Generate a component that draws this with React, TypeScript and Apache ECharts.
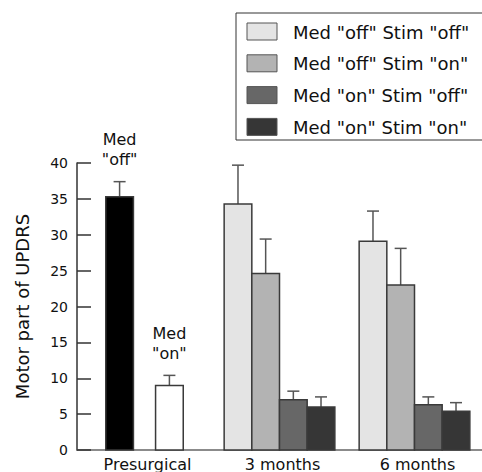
import React, { useEffect, useRef } from "react";
import * as echarts from "echarts";

const categories = ["Presurgical", "3 months", "6 months"];

// Presurgical (category 0)
const presurgicalNames = ['Med "off"', 'Med "on"'];
const presurgicalMeans = [35.3, 9.0];
const presurgicalErrTops = [37.4, 10.4];
const presurgicalNotes = ['Med\n"off"', 'Med\n"on"'];

// Follow-up (categories 1 and 2)
const followNames = [
  'Med "off" Stim "off"',
  'Med "off" Stim "on"',
  'Med "on" Stim "off"',
  'Med "on" Stim "on"',
];
const offOffMeans = [34.3, 29.1];
const offOffErrTops = [39.7, 33.3];
const offOnMeans = [24.6, 23.0];
const offOnErrTops = [29.4, 28.1];
const onOffMeans = [7.0, 6.3];
const onOffErrTops = [8.2, 7.4];
const onOnMeans = [6.0, 5.4];
const onOnErrTops = [7.4, 6.6];

const presurgicalColors = ["#000000", "#ffffff"];
const followColors = ["#e4e4e4", "#b3b3b3", "#676767", "#363636"];
const presurgicalSlots = [-0.9, 0.9];
const followSlots = [-1.5, -0.5, 0.5, 1.5];

const FONT = "DejaVu Sans";
const BAR_FRAC = 0.205;

function makeSeries(
  name: string,
  color: string,
  slot: number,
  rows: [number, number, number][],
  note?: string
) {
  return {
    type: "custom",
    name,
    encode: { x: 0, y: [1, 2] },
    data: rows,
    itemStyle: { color },
    renderItem: (params: any, api: any) => {
      const cat = api.value(0);
      const mean = api.value(1);
      const err = api.value(2);
      const base = api.coord([cat, 0]);
      const top = api.coord([cat, mean]);
      const ep = api.coord([cat, err]);
      const band = api.size([1, 0])[0];
      const bw = band * BAR_FRAC;
      const cx = base[0] + slot * bw;
      const children: any[] = [
        {
          type: "line",
          shape: { x1: cx, y1: top[1], x2: cx, y2: ep[1] },
          style: { stroke: "#555", lineWidth: 1.5 },
        },
        {
          type: "line",
          shape: { x1: cx - 6, y1: ep[1], x2: cx + 6, y2: ep[1] },
          style: { stroke: "#555", lineWidth: 1.5 },
        },
        {
          type: "rect",
          shape: { x: cx - bw / 2, y: top[1], width: bw, height: base[1] - top[1] },
          style: { fill: color, stroke: "#3a3a3a", lineWidth: 1.5 },
        },
      ];
      if (note) {
        children.push({
          type: "text",
          x: cx,
          y: ep[1] - 12,
          style: {
            text: note,
            fontFamily: FONT,
            fontSize: 16,
            lineHeight: 20,
            fill: "#111",
            align: "center",
            verticalAlign: "bottom",
          },
        });
      }
      return { type: "group", children };
    },
  };
}

export default function App() {
  const ref = useRef<HTMLDivElement>(null);
  useEffect(() => {
    if (!ref.current) return;
    const chart = echarts.init(ref.current, undefined, { renderer: "svg" });

    const series: any[] = [];
    presurgicalNames.forEach((n, i) => {
      series.push(
        makeSeries(
          n,
          presurgicalColors[i],
          presurgicalSlots[i],
          [[0, presurgicalMeans[i], presurgicalErrTops[i]]],
          presurgicalNotes[i]
        )
      );
    });
    const followMeans = [offOffMeans, offOnMeans, onOffMeans, onOnMeans];
    const followErr = [offOffErrTops, offOnErrTops, onOffErrTops, onOnErrTops];
    followNames.forEach((n, i) => {
      const rows: [number, number, number][] = followMeans[i].map((m, j) => [
        j + 1,
        m,
        followErr[i][j],
      ]);
      series.push(makeSeries(n, followColors[i], followSlots[i], rows));
    });

    const legendGraphics: any[] = [
      {
        type: "rect",
        shape: { x: 236, y: 13, width: 260, height: 127 },
        style: { fill: "#fff", stroke: "#333", lineWidth: 1 },
      },
    ];
    followNames.forEach((n, i) => {
      const y0 = 23 + i * 31.8;
      legendGraphics.push({
        type: "rect",
        shape: { x: 247, y: y0, width: 30, height: 17 },
        style: { fill: followColors[i], stroke: "#555", lineWidth: 1 },
      });
      legendGraphics.push({
        type: "text",
        x: 293,
        y: y0 + 9,
        style: {
          text: n,
          fontFamily: FONT,
          fontSize: 18,
          fill: "#111",
          verticalAlign: "middle",
        },
      });
    });

    chart.setOption({
      animation: false,
      backgroundColor: "#fff",
      grid: { left: 77, right: 0, top: 163, bottom: 20, containLabel: false },
      xAxis: {
        type: "category",
        data: categories,
        axisTick: { show: false },
        axisLine: { lineStyle: { color: "#666", width: 1.5 } },
        axisLabel: {
          fontFamily: FONT,
          fontSize: 16,
          color: "#111",
          margin: 6,
          padding: [0, 0, 0, 6],
        },
      },
      yAxis: {
        type: "value",
        min: 0,
        max: 40,
        interval: 5,
        name: "Motor part of UPDRS",
        nameLocation: "middle",
        nameGap: 46,
        nameTextStyle: { fontFamily: FONT, fontSize: 18, color: "#111" },
        axisLine: { show: true, lineStyle: { color: "#333", width: 1.5 } },
        axisTick: { show: true, inside: true, length: 14, lineStyle: { color: "#333", width: 1.5 } },
        axisLabel: { fontFamily: FONT, fontSize: 14, color: "#111", margin: 9 },
        splitLine: { show: false },
      },
      graphic: legendGraphics,
      series,
    });
    return () => chart.dispose();
  }, []);
  return (
    <div
      ref={ref}
      style={{ position: "fixed", left: 0, top: 0, width: 482, height: 472 }}
    />
  );
}
